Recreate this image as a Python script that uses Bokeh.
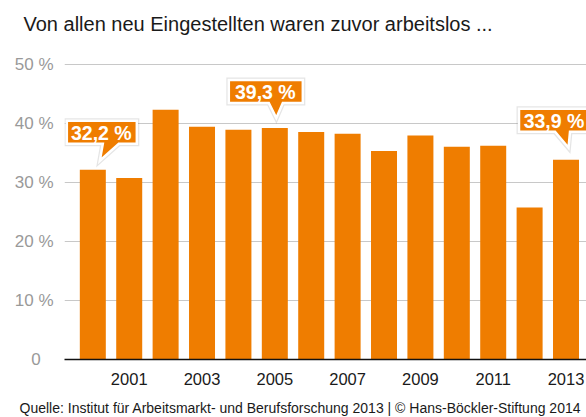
from bokeh.plotting import figure
from bokeh.models import Title, FixedTicker, Range1d
from bokeh.embed import file_html
from bokeh.resources import INLINE

# ---- data ----
years = [2000, 2001, 2002, 2003, 2004, 2005, 2006, 2007, 2008, 2009, 2010, 2011, 2012, 2013]
shares = [32.2, 30.8, 42.4, 39.5, 39.0, 39.3, 38.6, 38.3, 35.4, 38.0, 36.1, 36.3, 25.8, 33.9]
callout_years = [2000, 2005, 2013]
callout_labels = ["32,2 %", "39,3 %", "33,9 %"]
y_ticks = [0, 10, 20, 30, 40, 50]
y_tick_labels = ["0\u00a0\u00a0\u2009", "10 %", "20 %", "30 %", "40 %", "50 %"]
x_ticks = [2001, 2003, 2005, 2007, 2009, 2011, 2013]
title_text = "Von allen neu Eingestellten waren zuvor arbeitslos ..."
source_text = "Quelle: Institut für Arbeitsmarkt- und Berufsforschung 2013 | © Hans-Böckler-Stiftung 2014"

ORANGE = "#ef7d00"
FONT = "Liberation Sans"

# ---- geometry (screen pixels) ----
W, H = 586, 417
FL, FR, FT, FB = 64, 586, 55, 359
X_START, X_END = 1999.222, 2013.563
Y_START, Y_END = 0, 51.6
sx = (FR - FL) / (X_END - X_START)
sy = (FB - FT) / (Y_END - Y_START)

def dx(px):
    return X_START + (px - FL) / sx

def dy(py):
    return Y_START + (FB - py) / sy

p = figure(width=W, height=H, output_backend="svg", toolbar_location=None,
           x_range=Range1d(X_START, X_END), y_range=Range1d(Y_START, Y_END),
           min_border_left=FL, min_border_right=W - FR,
           min_border_top=FT, min_border_bottom=H - FB)
p.outline_line_color = None
p.xgrid.visible = False
p.background_fill_color = "white"
p.border_fill_color = "white"

p.ygrid.ticker = FixedTicker(ticks=y_ticks[1:])
p.ygrid.grid_line_color = "#c8c8c8"

p.vbar(x=years, top=shares, width=26 / sx, color=ORANGE, line_color=None)

ax = p.xaxis[0]
ax.ticker = FixedTicker(ticks=x_ticks)
ax.axis_line_color = "#111111"
ax.axis_line_width = 1.5
ax.major_tick_line_color = None
ax.minor_tick_line_color = None
ax.major_label_text_font = FONT
ax.major_label_text_font_size = "16.5px"
ax.major_label_text_color = "#1a1a1a"
ax.major_label_standoff = 7

ay = p.yaxis[0]
ay.ticker = FixedTicker(ticks=y_ticks)
ay.major_label_overrides = {t: lab for t, lab in zip(y_ticks, y_tick_labels)}
ay.axis_line_color = None
ay.major_tick_line_color = None
ay.minor_tick_line_color = None
ay.major_label_text_font = FONT
ay.major_label_text_font_size = "17px"
ay.major_label_text_color = "#999999"
ay.major_label_standoff = 5

# callouts: pixel offsets relative to bar centre / bar top
shapes = {
    2000: dict(box=(-26, 44, -49, -26), tail=(10, 26, 7, -9)),
    2005: dict(box=(-46, 28, -48, -25), tail=(-6, 8, 1.5, -10)),
    2013: dict(box=(-47, 24, -51, -28), tail=(-11, 4, 2.5, -12)),
}
xs_all, ys_all, tx, ty_, tt = [], [], [], [], []
for yr, lab in zip(callout_years, callout_labels):
    v = shares[years.index(yr)]
    cx = FL + (yr - X_START) * sx
    ty = FB - v * sy
    l, r, t, b = shapes[yr]["box"]
    tl, tr, tipx, tipy = shapes[yr]["tail"]
    pxs = [cx + l, cx + r, cx + r, cx + tr, cx + tipx, cx + tl, cx + l]
    pys = [ty + t, ty + t, ty + b, ty + b, ty + tipy, ty + b, ty + b]
    xs_all.append([dx(q) for q in pxs])
    ys_all.append([dy(q) for q in pys])
    tx.append(dx(cx + (l + r) / 2 - 0.5))
    ty_.append(dy(ty + (t + b) / 2 + 0.5))
    tt.append(lab)

p.patches(xs_all, ys_all, fill_color=None, line_color="#000000", line_alpha=0.10, line_width=5,
          line_join="miter")
p.patches(xs_all, ys_all, fill_color=ORANGE, line_color="white", line_width=2.5,
          line_join="miter")
p.text(x=tx, y=ty_, text=tt, text_align="center", text_baseline="middle",
       text_font={"value": FONT}, text_font_size="19.5px", text_font_style="bold",
       text_color="white")

# spacer between frame and title (keeps the title up near the top edge)
p.add_layout(Title(text=" ", text_font_size="1px", standoff=18), "above")

p.title.text = title_text
p.title.align = "left"
p.title.offset = 23 - FL
p.title.standoff = 0
p.title.vertical_align = "bottom"
p.title.text_font = FONT
p.title.text_font_size = "20px"
p.title.text_font_style = "normal"
p.title.text_color = "#1a1a1a"

# spacer between axis labels and source line
p.add_layout(Title(text=" ", text_font_size="1px", standoff=7), "below")
src = Title(text=source_text, align="left", offset=19 - FL, standoff=0, vertical_align="bottom",
            text_font=FONT, text_font_size="14px", text_font_style="normal", text_color="#1a1a1a")
p.add_layout(src, "below")

open("out.html", "w").write(file_html(p, INLINE))
